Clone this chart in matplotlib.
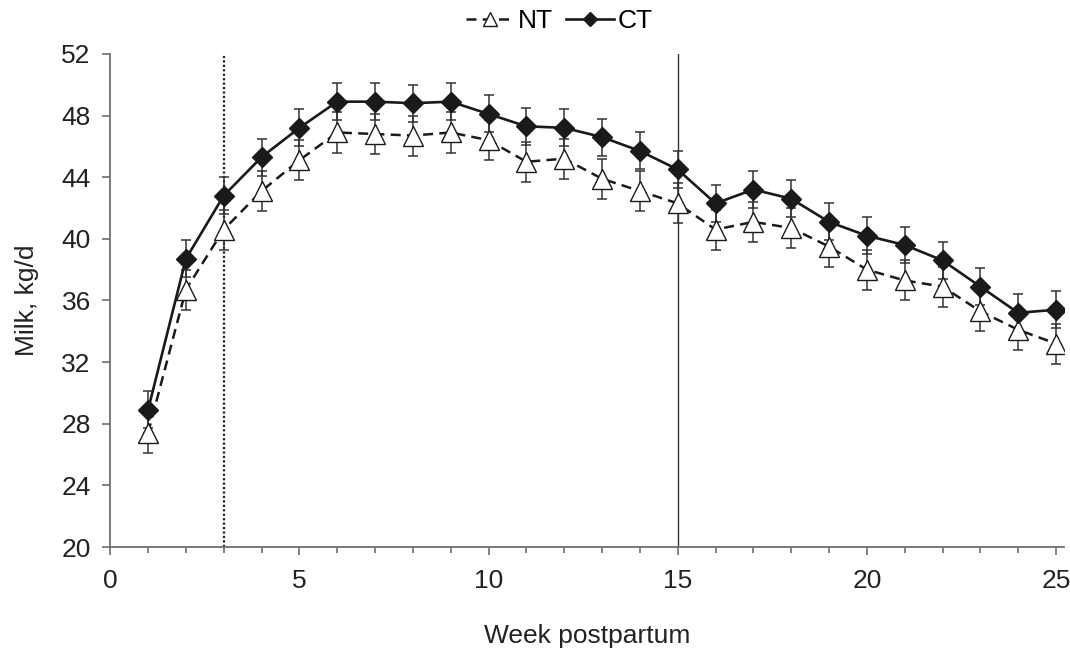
import numpy as np
import matplotlib
matplotlib.use("Agg")
from matplotlib import pyplot as plt
from matplotlib.ticker import MultipleLocator

plt.rcParams['font.family'] = ['Liberation Sans', 'DejaVu Sans']

weeks = list(range(1, 26))
nt_milk = [27.4, 36.7, 40.6, 43.1, 45.1, 46.9, 46.8, 46.7, 46.9, 46.4,
           45.0, 45.2, 43.9, 43.1, 42.3, 40.6, 41.1, 40.7, 39.5, 38.0,
           37.3, 36.9, 35.3, 34.1, 33.2]
ct_milk = [28.9, 38.7, 42.8, 45.3, 47.2, 48.9, 48.9, 48.8, 48.9, 48.1,
           47.3, 47.2, 46.6, 45.7, 44.5, 42.3, 43.2, 42.6, 41.1, 40.2,
           39.6, 38.6, 36.9, 35.2, 35.4]
nt_se = [1.3] * 25
ct_se = [1.2] * 25
vlines = [3, 15]

dpi = 100
fig = plt.figure(figsize=(1070 / dpi, 649 / dpi), dpi=dpi)
ax = fig.add_axes([0.103, 0.157, 0.891, 0.76])

grey = '#6e6e6e'

# reference lines
ax.axvline(vlines[0], color='#222222', lw=1.6, ls=(0, (1, 1)), zorder=1)
ax.axvline(vlines[1], color='#333333', lw=1.0, zorder=1)

# error bars
ax.errorbar(weeks, ct_milk, yerr=ct_se, fmt='none', ecolor='#333333',
            elinewidth=1.1, capsize=3.5, capthick=1.1, zorder=2)
ax.errorbar(weeks, nt_milk, yerr=nt_se, fmt='none', ecolor='#333333',
            elinewidth=1.1, capsize=3.5, capthick=1.1, zorder=2)

ax.plot(weeks, nt_milk, color='#1a1a1a', lw=1.8, ls=(0, (4, 2.5)),
        marker='^', ms=14, mfc='white', mec='#1a1a1a', mew=1.0,
        label='NT', zorder=3)
ax.plot(weeks, ct_milk, color='#1a1a1a', lw=1.9, ls='-',
        marker='D', ms=10, mfc='#1a1a1a', mec='#1a1a1a',
        label='CT', zorder=4)

ax.set_xlim(0, 25.2)
ax.set_ylim(20, 52)
ax.xaxis.set_major_locator(MultipleLocator(5))
ax.xaxis.set_minor_locator(MultipleLocator(1))
ax.yaxis.set_major_locator(MultipleLocator(4))

for s in ['top', 'right']:
    ax.spines[s].set_visible(False)
for s in ['left', 'bottom']:
    ax.spines[s].set_color(grey)
    ax.spines[s].set_linewidth(1.3)

ax.tick_params(axis='both', which='major', direction='out', length=6,
               width=1.2, color=grey, labelsize=19, pad=8, labelcolor='#222222')
ax.tick_params(axis='x', which='minor', direction='out', length=4,
               width=1.2, color=grey)
ax.tick_params(axis='x', which='major', length=6, pad=10)

ax.set_xlabel('Week postpartum', fontsize=19, color='#222222', labelpad=22)
ax.set_ylabel('Milk, kg/d', fontsize=19, color='#222222', labelpad=16)

leg = fig.legend(loc='upper center', bbox_to_anchor=(0.523, 1.022), ncol=2,
                 frameon=False, fontsize=19, handlelength=1.8,
                 columnspacing=0.5, handletextpad=0.15, markerscale=0.75)

fig.savefig('out.png', dpi=dpi)
